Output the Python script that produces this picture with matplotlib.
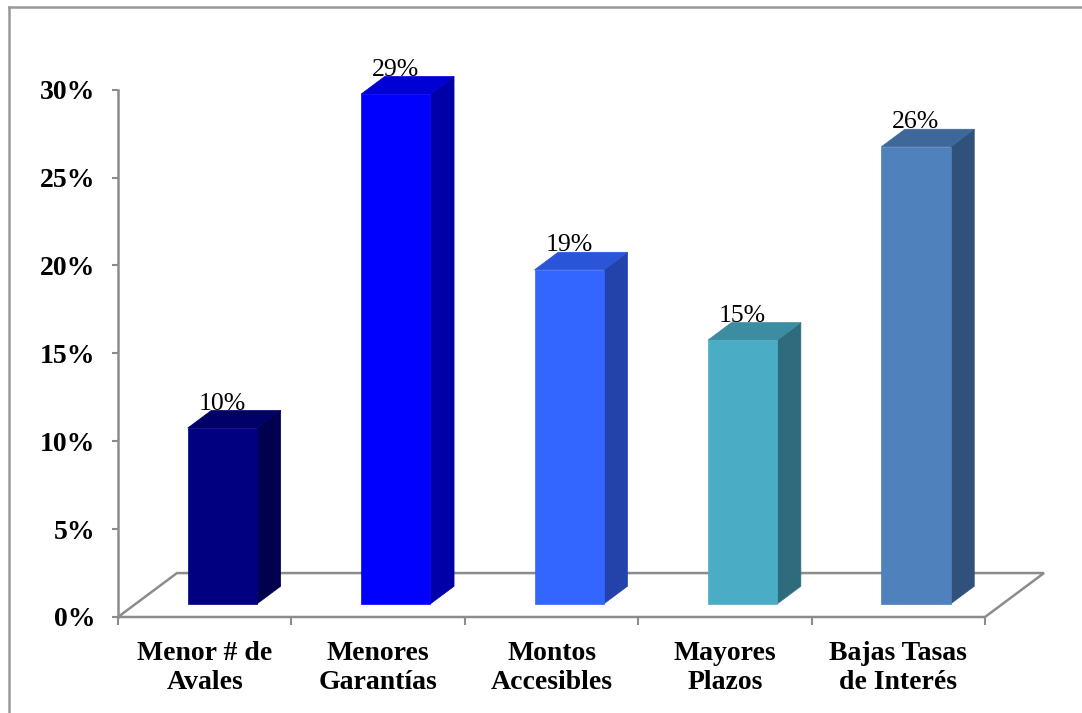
import matplotlib.pyplot as plt
from matplotlib.patches import Polygon
from matplotlib.lines import Line2D

categories = ["Menor # de\nAvales", "Menores\nGarantías", "Montos\nAccesibles",
              "Mayores\nPlazos", "Bajas Tasas\nde Interés"]
values = [10, 29, 19, 15, 26]
labels = ["10%", "29%", "19%", "15%", "26%"]

front_colors = ["#000080", "#0000FF", "#3366FF", "#4BACC6", "#4F81BD"]
top_colors = ["#000066", "#0000D4", "#2B55D8", "#3C8CA2", "#3F689A"]
side_colors = ["#00004E", "#0000A8", "#2443AA", "#2E6C7D", "#30527A"]

serif = "Liberation Serif"
grey = "#8C8C8C"

fig = plt.figure(figsize=(10.82, 7.13), dpi=100)
ax = fig.add_axes([118 / 1082, 96 / 713, 867 / 1082, 527.3 / 713])
ax.set_xlim(0, 5)
ax.set_ylim(0, 30)

# fake 3d: depth of the floor in data units
depth_x, depth_y = 0.34, 2.5
front_d, back_d = 0.3, 0.7
bar_w = 0.4

# floor
floor = Polygon([(0, 0), (5, 0), (5 + depth_x, depth_y), (depth_x, depth_y)],
                closed=True, facecolor="none", edgecolor=grey, lw=1.8,
                clip_on=False, zorder=1)
ax.add_patch(floor)

ox, oy = front_d * depth_x, front_d * depth_y
sx, sy = (back_d - front_d) * depth_x, (back_d - front_d) * depth_y

for i, v in enumerate(values):
    x0 = i + 0.5 - bar_w / 2 + ox
    x1 = x0 + bar_w
    y0 = oy
    y1 = oy + v
    front = [(x0, y0), (x1, y0), (x1, y1), (x0, y1)]
    top = [(x0, y1), (x1, y1), (x1 + sx, y1 + sy), (x0 + sx, y1 + sy)]
    side = [(x1, y0), (x1 + sx, y0 + sy), (x1 + sx, y1 + sy), (x1, y1)]
    for pts, c in [(side, side_colors[i]), (top, top_colors[i]), (front, front_colors[i])]:
        ax.add_patch(Polygon(pts, closed=True, facecolor=c, edgecolor=c,
                             lw=0.5, clip_on=False, zorder=3))
    ax.text((x0 + x1) / 2, y1 + sy + 0.05, labels[i], ha="center", va="baseline",
            fontsize=18.5, family=serif, zorder=4)

for s in ["top", "right", "bottom"]:
    ax.spines[s].set_visible(False)
ax.spines["left"].set_color(grey)
ax.spines["left"].set_linewidth(1.8)

ax.set_yticks(range(0, 31, 5))
ax.set_yticklabels([f"{t}%" for t in range(0, 31, 5)], fontsize=20,
                   fontweight="bold", family=serif)
ax.tick_params(axis="y", length=4.5, width=1.5, color=grey, pad=12)

ax.set_xticks(range(6))
ax.set_xticklabels([])
ax.set_xticks([i + 0.5 for i in range(5)], minor=True)
ax.set_xticklabels(categories, minor=True, fontsize=20, fontweight="bold",
                   family=serif, linespacing=1.22)
ax.tick_params(axis="x", which="major", length=6, width=1.5, color=grey)
ax.tick_params(axis="x", which="minor", length=0, pad=17)

# outer frame
fig.add_artist(Line2D([9 / 1082, 9 / 1082], [-0.1, 1 - 7 / 713], color="#999999",
                      lw=1.8, transform=fig.transFigure))
fig.add_artist(Line2D([9 / 1082, 1.1], [1 - 7 / 713, 1 - 7 / 713], color="#999999",
                      lw=1.8, transform=fig.transFigure))

fig.savefig("out.png", dpi=100)
